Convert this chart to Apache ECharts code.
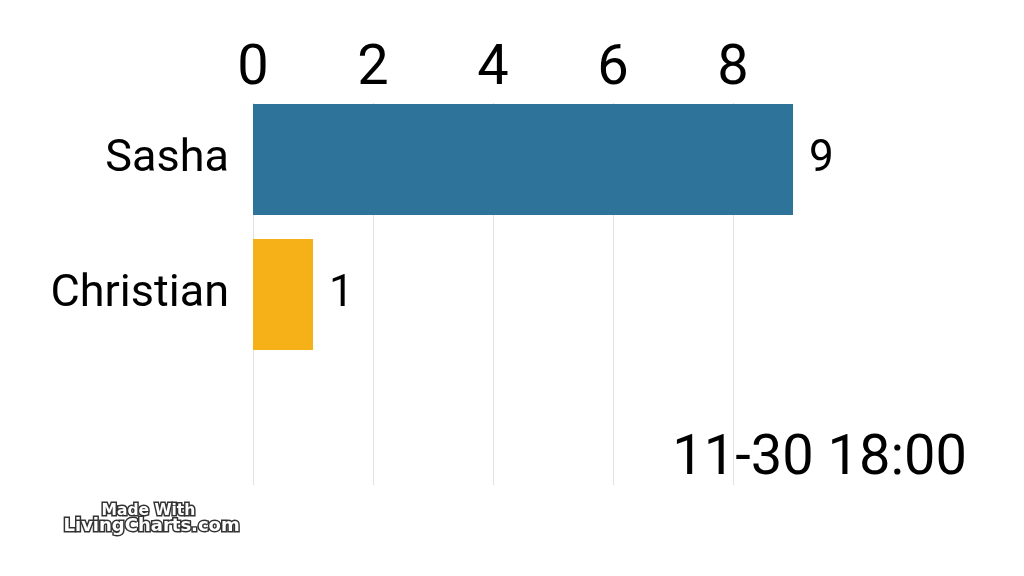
<!DOCTYPE html>
<html>
<head>
<meta charset="utf-8">
<script src="https://cdn.jsdelivr.net/npm/echarts@6/dist/echarts.min.js"></script>
<style>
  html, body { margin: 0; padding: 0; background: #fff; }
  #race { width: 1024px; height: 576px; }
</style>
</head>
<body>
<div id="race"></div>
<script>
// data for this frame
var names = ['Sasha', 'Christian', ''];
var counts = [9, 1, null];
var barColors = ['#2e7399', '#f6b118', '#ffffff'];
var xTicks = [0, 2, 4, 6, 8];
var frameLabel = '11-30 18:00';
var xMax = 9;

var raceChart = echarts.init(document.getElementById('race'), null, {renderer: 'canvas'});

var option = {
    backgroundColor: '#ffffff',
    animation: false,
    grid: [
        // grid for the vertical lines and the top tick labels
        {left: 253, right: 231, top: 103, bottom: 91},
        // grid for the bars
        {left: 253, right: 231, top: 92, bottom: 79}
    ],
    xAxis: [
        {
            gridIndex: 0,
            type: 'value',
            position: 'top',
            min: 0,
            max: xMax,
            interval: 2,
            axisLine: {show: false},
            axisTick: {show: false},
            splitLine: {show: true, showMaxLine: false, lineStyle: {color: '#e2e2e2', width: 1}},
            axisLabel: {
                fontFamily: 'Roboto',
                fontSize: 56,
                color: '#000',
                margin: 5,
                showMaxLabel: false,
                formatter: function (v) { return xTicks.indexOf(v) >= 0 ? String(v) : ''; }
            }
        },
        {
            gridIndex: 1,
            type: 'value',
            min: 0,
            max: xMax,
            show: false
        }
    ],
    yAxis: [
        {
            gridIndex: 0,
            type: 'category',
            data: names,
            show: false
        },
        {
            gridIndex: 1,
            type: 'category',
            data: names,
            inverse: true,
            axisLine: {show: false},
            axisTick: {show: false},
            axisLabel: {
                fontFamily: 'Roboto',
                fontSize: 45,
                color: '#000',
                margin: 24
            }
        }
    ],
    series: [{
        type: 'bar',
        xAxisIndex: 1,
        yAxisIndex: 1,
        barWidth: 111,
        data: counts.map(function (v, i) {
            return {value: v, itemStyle: {color: barColors[i]}};
        }),
        label: {
            show: true,
            position: 'right',
            distance: 16,
            fontFamily: 'Roboto',
            fontSize: 44,
            color: '#000',
            formatter: function (p) { return p.value == null ? '' : p.value; }
        }
    }],
    graphic: [
        {
            type: 'text',
            right: 57,
            top: 432,
            style: {
                text: frameLabel,
                font: '56px Roboto',
                fill: '#000'
            }
        },
        {
            type: 'text',
            left: 100,
            top: 501,
            style: {
                text: 'Made With',
                font: 'bold 15.5px "DejaVu Sans"',
                fill: '#fff',
                stroke: '#333',
                lineWidth: 3
            }
        },
        {
            type: 'text',
            left: 62,
            top: 516,
            style: {
                text: 'LivingCharts.com',
                font: 'bold 18px "DejaVu Sans"',
                fill: '#fff',
                stroke: '#333',
                lineWidth: 3
            }
        }
    ]
};

raceChart.setOption(option);
</script>
</body>
</html>
